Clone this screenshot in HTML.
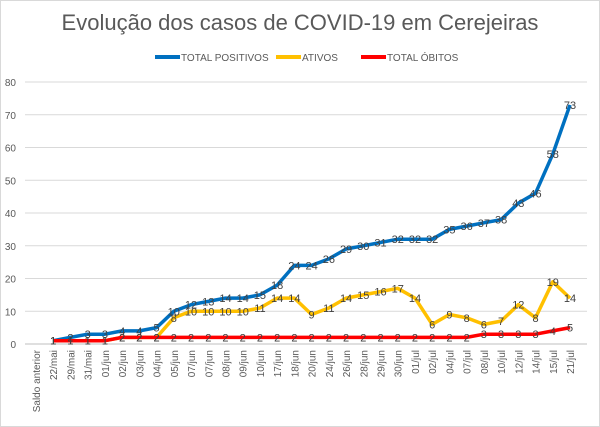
<!DOCTYPE html>
<html><head><meta charset="utf-8"><style>
body{margin:0;background:#fff;}
svg{display:block;font-family:"Liberation Sans",sans-serif;}
</style></head><body>
<svg id="c" width="600" height="427" viewBox="0 0 600 427" xmlns="http://www.w3.org/2000/svg">
<rect x="0.5" y="0.5" width="599" height="426" fill="#fff" stroke="#d9d9d9"/>
<text x="300" y="30" text-anchor="middle" font-size="22" fill="#595959">Evolução dos casos de COVID-19 em Cerejeiras</text>
<line x1="155" y1="57" x2="180" y2="57" stroke="#0070c0" stroke-width="4"/>
<text x="181" y="61" font-size="10" fill="#595959">TOTAL POSITIVOS</text>
<line x1="276" y1="57" x2="301" y2="57" stroke="#ffc000" stroke-width="4"/>
<text x="302" y="61" font-size="10" fill="#595959">ATIVOS</text>
<line x1="361" y1="57" x2="386" y2="57" stroke="#ff0000" stroke-width="4"/>
<text x="387" y="61" font-size="10" fill="#595959">TOTAL ÓBITOS</text>
<g id="g"></g>
</svg>
<script>
var ns="http://www.w3.org/2000/svg",g=document.getElementById('g');
function el(t,a,txt){var e=document.createElementNS(ns,t);for(var k in a)e.setAttribute(k,a[k]);if(txt!=null)e.textContent=txt;g.appendChild(e);return e;}
var y0=344,sc=(344-82)/80;function Y(v){return y0-v*sc;}
for(var v=0;v<=80;v+=10){el('line',{x1:25,x2:587,y1:Y(v),y2:Y(v),stroke:v?'#d9d9d9':'#bfbfbf','stroke-width':1});el('text',{x:16,y:Y(v)+4,'text-anchor':'end','font-size':10,fill:'#595959'},v);}
var cats=["Saldo anterior","22/mai","29/mai","31/mai","01/jun","02/jun","03/jun","04/jun","05/jun","07/jun","07/jun","08/jun","09/jun","10/jun","17/jun","18/jun","20/jun","24/jun","26/jun","28/jun","29/jun","30/jun","01/jul","02/jul","04/jul","07/jul","08/jul","10/jul","12/jul","14/jul","15/jul","21/jul"];
var st=(570-36)/31;function X(i){return 36+i*st;}
cats.forEach(function(c,i){var x=X(i)+4,y=350;el('text',{x:x,y:y,'text-anchor':'end','font-size':10,fill:'#595959',transform:'rotate(-90 '+x+' '+y+')'},c);});
var P=[1,2,3,3,4,4,5,10,12,13,14,14,15,18,24,24,26,29,30,31,32,32,32,35,36,37,38,43,46,58,73];
var A=[1,1,1,1,2,2,2,8,10,10,10,10,11,14,14,9,11,14,15,16,17,14,6,9,8,6,7,12,8,19,14];
var O=[];for(var i=0;i<31;i++)O.push(i<4?1:i<25?2:i<29?3:i==29?4:5);
[[P,'#0070c0'],[A,'#ffc000'],[O,'#ff0000']].forEach(function(s){
 var d=s[0].map(function(v,i){return (i?'L':'M')+X(i+1).toFixed(1)+' '+Y(v).toFixed(1);}).join(' ');
 el('path',{d:d,fill:'none',stroke:s[1],'stroke-width':3.5,'stroke-linejoin':'round'});
});
[P,A,O].forEach(function(s){s.forEach(function(v,i){el('text',{x:X(i+1),y:Y(v)+4,'text-anchor':'middle','font-size':11,fill:'#404040'},v);});});
</script>
</body></html>
